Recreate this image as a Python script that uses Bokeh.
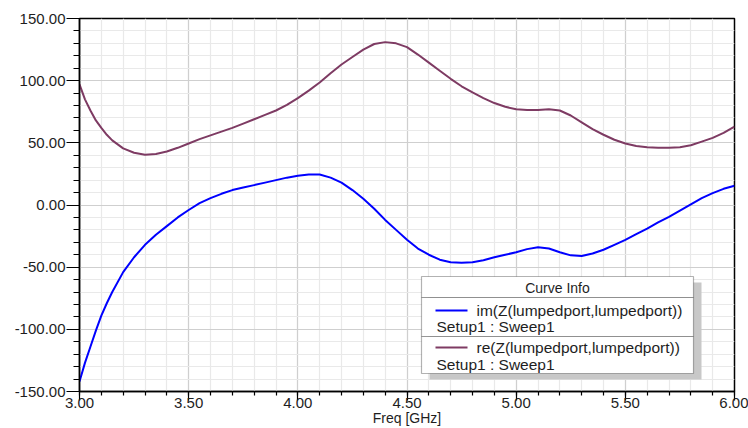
from bokeh.plotting import figure
from bokeh.models import (SingleIntervalTicker, PrintfTickFormatter, Range1d,
                          BoxAnnotation, Label)
from bokeh.embed import file_html
from bokeh.resources import INLINE

# ---- data ----
freq = [3.00, 3.025, 3.05, 3.075, 3.10, 3.125, 3.15, 3.20, 3.25, 3.30, 3.35, 3.40, 3.45, 3.50,
        3.55, 3.60, 3.65, 3.70, 3.75, 3.80, 3.85, 3.90, 3.95, 4.00,
        4.05, 4.10, 4.15, 4.20, 4.25, 4.30, 4.35, 4.40, 4.45, 4.50,
        4.55, 4.60, 4.65, 4.70, 4.75, 4.80, 4.85, 4.90, 4.95, 5.00,
        5.05, 5.10, 5.15, 5.20, 5.25, 5.30, 5.35, 5.40, 5.45, 5.50,
        5.55, 5.60, 5.65, 5.70, 5.75, 5.80, 5.85, 5.90, 5.95, 6.00]

im_z = [-142, -127, -114, -101, -89, -79, -70, -54, -42, -32, -24, -17, -10, -4,
        1.5, 5.5, 9, 12, 14, 16, 18, 20, 22, 23.5,
        24.5, 24.5, 22, 18, 12, 5, -3, -12, -20, -28,
        -35, -40, -44, -46, -46.5, -46, -44.5, -42, -40, -38,
        -35.5, -34, -35, -38, -40.5, -41, -39, -36, -32, -28,
        -23.5, -19, -14, -9.5, -4.5, 0.5, 5.5, 9.5, 13, 15.5]

re_z = [97, 85, 76, 68, 62, 56.5, 52, 45.5, 42, 40.5, 41, 43, 46, 49.5,
        53, 56, 59, 62, 65.5, 69, 72.5, 76, 80.5, 86,
        92, 98.5, 106, 113, 119, 125, 129.5, 131, 130, 127,
        121, 114.5, 108, 101.5, 95.5, 90.5, 86, 82, 79, 77,
        76.5, 76.5, 77, 76, 72, 66.5, 61, 56.5, 52.5, 49.5,
        47.5, 46.5, 46, 46, 46.5, 48, 51, 54, 58, 63]

legend_title = "Curve Info"
series_names = ["im(Z(lumpedport,lumpedport))", "re(Z(lumpedport,lumpedport))"]
series_sub = ["Setup1 : Sweep1", "Setup1 : Sweep1"]
series_colors = ["#0000ff", "#7e3b63"]
x_label = "Freq [GHz]"

FONT = "Liberation Sans"
TXT = "#1e1e1e"

p = figure(width=748, height=428, output_backend="svg",
           toolbar_location=None, x_range=Range1d(3.0, 6.0),
           y_range=Range1d(-150, 150), min_border_left=79,
           min_border_top=18, min_border_right=14, min_border_bottom=33)
p.background_fill_color = "white"
p.outline_line_color = "black"
p.outline_line_width = 1.5

# curves
p.line(freq, im_z, line_color=series_colors[0], line_width=2)
p.line(freq, re_z, line_color=series_colors[1], line_width=2)

# axes
p.xaxis.ticker = SingleIntervalTicker(interval=0.5, num_minor_ticks=5)
p.yaxis.ticker = SingleIntervalTicker(interval=50, num_minor_ticks=5)
p.xaxis.formatter = PrintfTickFormatter(format="%.2f")
p.yaxis.formatter = PrintfTickFormatter(format="%.2f")
for ax in (p.xaxis, p.yaxis):
    ax.axis_line_color = "black"
    ax.axis_line_width = 1.5
    ax.major_tick_line_color = "black"
    ax.minor_tick_line_color = "black"
    ax.major_tick_line_width = 1.2
    ax.minor_tick_line_width = 1.2
    ax.major_tick_in = 0
    ax.minor_tick_in = 0
    ax.major_label_text_font = FONT
    ax.major_label_text_font_size = "15px"
    ax.major_label_text_color = TXT
p.yaxis.major_tick_out = 13
p.yaxis.minor_tick_out = 6
p.yaxis.major_label_standoff = 1
p.xaxis.major_tick_out = 9
p.xaxis.minor_tick_out = 4
p.xaxis.major_label_standoff = -3
p.xaxis.axis_label = x_label
p.xaxis.axis_label_standoff = -1
p.xaxis.axis_label_text_font = FONT
p.xaxis.axis_label_text_font_size = "14px"
p.xaxis.axis_label_text_font_style = "normal"
p.xaxis.axis_label_text_color = TXT

# grid
p.xgrid.grid_line_color = "#cfcfcf"
p.ygrid.grid_line_color = "#cfcfcf"
p.xgrid.minor_grid_line_color = "#e9e9e9"
p.ygrid.minor_grid_line_color = "#e9e9e9"
p.xgrid.grid_line_width = 1.2
p.ygrid.grid_line_width = 1.2
p.xgrid.minor_grid_line_width = 1.2
p.ygrid.minor_grid_line_width = 1.2

# legend box ("Curve Info")
L, R = 342, 614
D = -3
p.add_layout(BoxAnnotation(left=L + 8, right=R + 8, top=112 + D, bottom=15 + D,
                           left_units="screen", right_units="screen",
                           top_units="screen", bottom_units="screen",
                           fill_color="#c8c8c8", fill_alpha=1, line_alpha=0))
for top, bot in [(118, 97), (97, 58), (58, 21)]:
    p.add_layout(BoxAnnotation(left=L, right=R, top=top + D, bottom=bot + D,
                               left_units="screen", right_units="screen",
                               top_units="screen", bottom_units="screen",
                               fill_color="white", fill_alpha=1,
                               line_color="black", line_width=1.2))
p.add_layout(Label(x=(L + R) / 2, y=107 + D, x_units="screen", y_units="screen",
                   text=legend_title, text_align="center", text_baseline="middle",
                   text_font=FONT, text_font_size="14px", text_color=TXT))
for i, (ys, ysub) in enumerate([(84, 68), (47, 30)]):
    p.add_layout(BoxAnnotation(left=356, right=388, top=ys + 1 + D, bottom=ys - 1 + D,
                               left_units="screen", right_units="screen",
                               top_units="screen", bottom_units="screen",
                               fill_color=series_colors[i], fill_alpha=1, line_alpha=0))
    p.add_layout(Label(x=397, y=ys + D, x_units="screen", y_units="screen",
                       text=series_names[i], text_baseline="middle",
                       text_font=FONT, text_font_size="15.5px", text_color=TXT))
    p.add_layout(Label(x=357, y=ysub + D, x_units="screen", y_units="screen",
                       text=series_sub[i], text_baseline="middle",
                       text_font=FONT, text_font_size="15.5px", text_color=TXT))

open("out.html", "w").write(file_html(p, INLINE))
